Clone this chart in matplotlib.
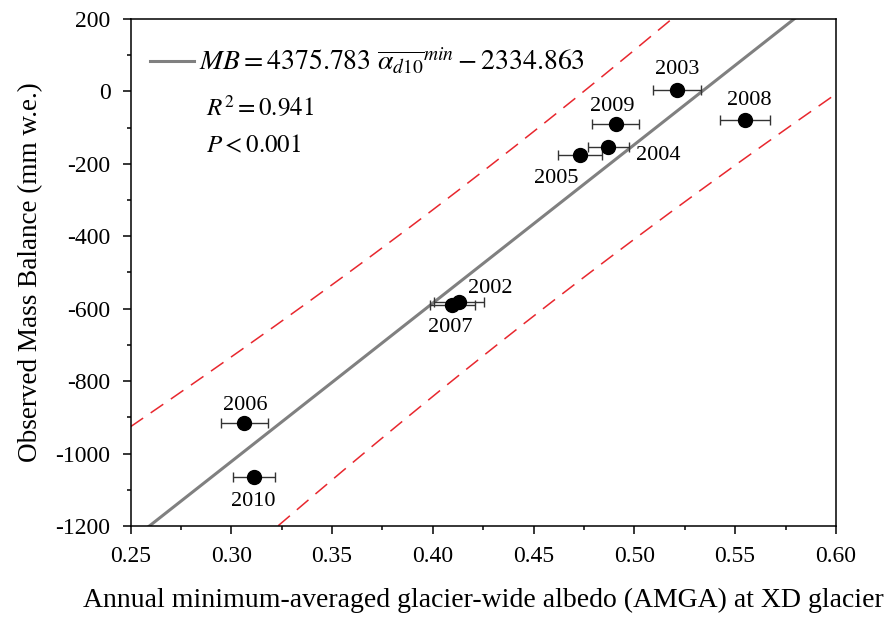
import matplotlib
matplotlib.use("Agg")
import matplotlib.pyplot as plt
from matplotlib.ticker import MultipleLocator, FormatStrFormatter
from matplotlib.lines import Line2D
import numpy as np

plt.rcParams['font.family'] = ['Liberation Serif', 'DejaVu Serif']
plt.rcParams['mathtext.fontset'] = 'stix'
plt.rcParams['axes.unicode_minus'] = False

# data
years = ['2002', '2003', '2004', '2005', '2006', '2007', '2008', '2009', '2010']
albedo = [0.4131, 0.5210, 0.4870, 0.4730, 0.3065, 0.4097, 0.5549, 0.4907, 0.3113]
albedo_err = [0.0125, 0.0119, 0.0102, 0.0110, 0.0117, 0.0113, 0.0122, 0.0118, 0.0105]
mass_balance = [-581, 4, -153, -176, -916, -590, -79, -91, -1066]
# label offsets in pixels (dx, dy)
label_dx = [31, 1, 50, -24, 1, -2, 4, -3, -1]
label_dy = [13, 20, -9, -23, 18, -22, 19, 18, -24]

slope = 4375.783
intercept = -2334.863
t_975 = 2.365  # t value, 7 degrees of freedom

# 95% prediction band around the fit
x = np.array(albedo)
y = np.array(mass_balance)
n = len(x)
resid = y - (slope * x + intercept)
s = np.sqrt(np.sum(resid ** 2) / (n - 2))
sxx = np.sum((x - x.mean()) ** 2)

xs = np.linspace(0.25, 0.60, 200)
fit = slope * xs + intercept
half = t_975 * s * np.sqrt(1 + 1 / n + (xs - x.mean()) ** 2 / sxx)

fig = plt.figure(figsize=(8.85, 6.21), dpi=100)
ax = fig.add_axes([0.1475, 0.153, 0.797, 0.8165])

ax.plot(xs, fit, color='#808080', lw=2.2, zorder=2)
ax.plot(xs, fit + half, color='#e8272e', lw=1.1, dashes=(10, 6), zorder=1)
ax.plot(xs, fit - half, color='#e8272e', lw=1.1, dashes=(10, 6), zorder=1)

ax.errorbar(albedo, mass_balance, xerr=albedo_err, fmt='o', color='black',
            ms=10, ecolor='#333333', elinewidth=1.0, capsize=3.6, capthick=1.0, zorder=3)

for yr, xv, yv, dx, dy in zip(years, albedo, mass_balance, label_dx, label_dy):
    ax.annotate(yr, (xv, yv), xytext=(dx, dy), textcoords='offset pixels',
                ha='center', va='center', fontsize=16)

ax.set_xlim(0.25, 0.60)
ax.set_ylim(-1200, 200)
ax.xaxis.set_major_locator(MultipleLocator(0.05))
ax.xaxis.set_minor_locator(MultipleLocator(0.025))
ax.yaxis.set_major_locator(MultipleLocator(200))
ax.yaxis.set_minor_locator(MultipleLocator(100))
ax.xaxis.set_major_formatter(FormatStrFormatter('%.2f'))
ax.tick_params(which='major', direction='out', length=5.5, width=1.1, labelsize=17)
ax.tick_params(axis='x', which='major', pad=9)
ax.tick_params(axis='y', which='major', pad=9)
ax.tick_params(which='minor', direction='out', length=3, width=1.1)
for sp in ax.spines.values():
    sp.set_linewidth(1.1)

ax.set_xlabel('Annual minimum-averaged glacier-wide albedo (AMGA) at XD glacier',
              fontsize=20, labelpad=15)
ax.set_ylabel('Observed Mass Balance (mm w.e.)', fontsize=19.5, labelpad=9)

handle = Line2D([], [], color='#808080', lw=2.2)
ax.legend([handle], [r'$MB = 4375.783\ \overline{\alpha_{d10}}^{min} - 2334.863$'],
          loc='upper left', bbox_to_anchor=(0.0, 0.985), frameon=False, fontsize=20,
          handlelength=1.6, handletextpad=0.15, borderaxespad=0.3)
ax.text(0.107, 0.826, r'$R^2 = 0.941$', transform=ax.transAxes, fontsize=18, va='center')
ax.text(0.107, 0.748, r'$P < 0.001$', transform=ax.transAxes, fontsize=18, va='center')

fig.savefig('out.png', dpi=100)
